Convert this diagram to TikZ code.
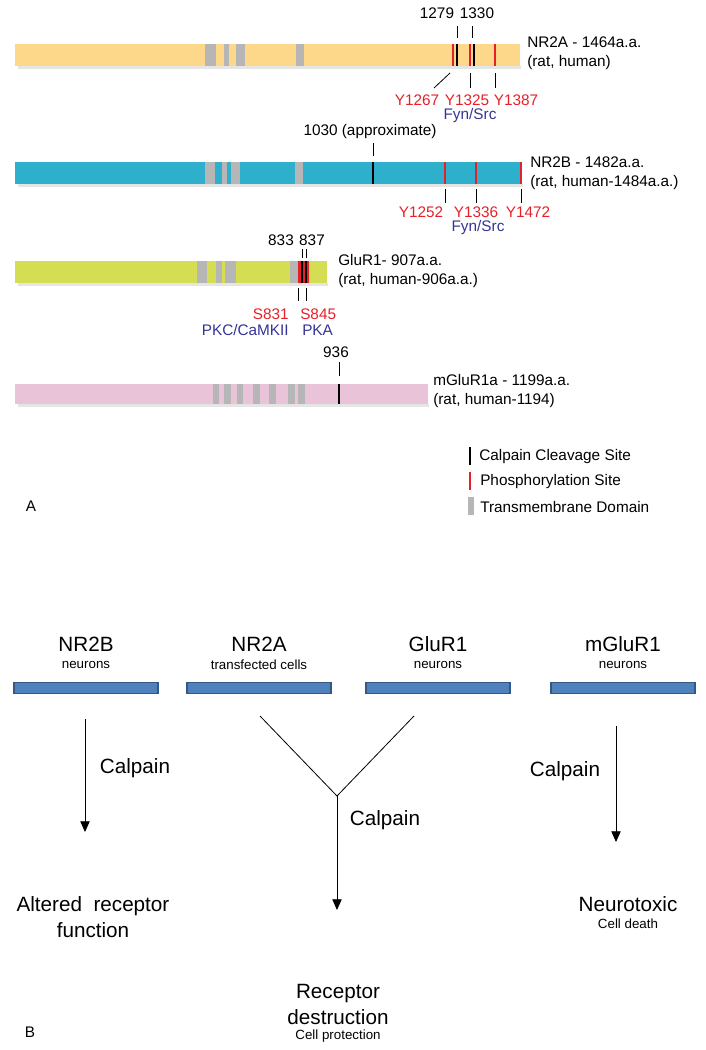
\documentclass[tikz,border=0pt]{standalone}
\usepackage{fontspec}
\setmainfont{Liberation Sans}
\usetikzlibrary{positioning,arrows.meta}
\definecolor{nrtwoa}{RGB}{253,216,138}
\definecolor{nrtwob}{RGB}{46,176,204}
\definecolor{gluone}{RGB}{213,221,82}
\definecolor{mgluone}{RGB}{233,195,215}
\definecolor{tmgrey}{RGB}{182,182,182}
\definecolor{phred}{RGB}{230,32,40}
\definecolor{kinblue}{RGB}{52,52,148}
\definecolor{boxblue}{RGB}{79,129,189}
\definecolor{boxedge}{RGB}{52,88,132}
\tikzset{
  txt/.style={font=\fontsize{11.5}{14.5}\selectfont,inner sep=0pt},
  sitetxt/.style={txt,text=phred},
  kintxt/.style={txt,text=kinblue},
  protname/.style={txt,anchor=west,align=left},
  sitetick/.style={line width=0.6pt},
  cleave/.style={line width=1.5pt},
  phos/.style={phred,line width=1.5pt},
  bigtxt/.style={font=\fontsize{15.5}{19.5}\selectfont,inner sep=0pt,align=center},
  smalltxt/.style={font=\fontsize{10}{12}\selectfont,inner sep=0pt},
  recbar/.style={draw=boxedge,fill=boxblue,line width=1.2pt,minimum width=108pt,minimum height=8.5pt,inner sep=0pt},
  flow/.style={-{Triangle[width=7pt,length=8pt]},line width=0.6pt}
}
\begin{document}
\begin{tikzpicture}[x=0.75pt,y=-0.75pt]
\useasboundingbox (0,0) rectangle (706,1050);
% A: NR2A
\fill[black!10] (18,66) rectangle (521,69);
\fill[nrtwoa] (15,44) rectangle (520,66);
\foreach \a/\b in {205/216,224/229,236/245,296/304}
  \fill[tmgrey] (\a,44) rectangle (\b,66);
\foreach \x in {452.7,470,494.5}
  \draw[phos] (\x,44) -- (\x,66);
\foreach \x in {457.3,473.5}
  \draw[cleave] (\x,44) -- (\x,66);
\draw[sitetick] (457,26) -- (457,38);
\draw[sitetick] (472,26) -- (472,38);
\node[txt] (a1279) at (437,13) {1279};
\node[txt] (a1330) at (477,13) {1330};
\draw[sitetick] (450,73) -- (434,88);
\draw[sitetick] (470,73) -- (470,88);
\draw[sitetick] (495,73) -- (495,88);
\node[sitetxt] (ay1267) at (417,100) {Y1267};
\node[sitetxt] (ay1325) at (467,100) {Y1325};
\node[sitetxt] (ay1387) at (516,100) {Y1387};
\node[kintxt] (afyn) at (470,116) {Fyn/Src};
\node[protname] (nrtwoalbl) at (527,53) {NR2A - 1464a.a.\\(rat, human)};
% A: NR2B
\fill[black!10] (18,184) rectangle (523,187);
\fill[nrtwob] (15,162) rectangle (522,184);
\foreach \a/\b in {205/215,222/227,231/240,295/303}
  \fill[tmgrey] (\a,162) rectangle (\b,184);
\draw[cleave] (373,162) -- (373,184);
\foreach \x in {445,476,521}
{
  \draw[phos] (\x,162) -- (\x,184);
  \draw[sitetick] (\x,189) -- (\x,203);
}
\draw[sitetick] (373,143) -- (373,156);
\node[txt] (b1030) at (370,132) {1030 (approximate)};
\node[sitetxt] (by1252) at (421,212) {Y1252};
\node[sitetxt] (by1336) at (476,212) {Y1336};
\node[sitetxt] (by1472) at (528,212) {Y1472};
\node[kintxt] (bfyn) at (478,228) {Fyn/Src};
\node[protname] (nrtwoblbl) at (530,173) {NR2B - 1482a.a.\\(rat, human-1484a.a.)};
% A: GluR1
\fill[black!10] (18,283) rectangle (328,286);
\fill[gluone] (15,261) rectangle (327,283);
\foreach \a/\b in {197/207,216/222,225/236,290/298}
  \fill[tmgrey] (\a,261) rectangle (\b,283);
\fill[phred] (298,261) rectangle (309,283);
\foreach \x in {302,306}
  \draw[line width=1.2pt] (\x,261) -- (\x,283);
\foreach \x in {302.5,306}
  \draw[sitetick] (\x,249) -- (\x,258);
\foreach \x in {298.5,306.5}
  \draw[sitetick] (\x,288) -- (\x,301);
\node[txt] (g833) at (281,240) {833};
\node[txt] (g837) at (312,240) {837};
\node[sitetxt,anchor=east] (gs831) at (289,314) {S831};
\node[sitetxt,anchor=west] (gs845) at (300,314) {S845};
\node[kintxt,anchor=east] (gpkc) at (289,330) {PKC/CaMKII};
\node[kintxt,anchor=west] (gpka) at (302,330) {PKA};
\node[protname] (glulbl) at (338,271) {GluR1- 907a.a.\\(rat, human-906a.a.)};
% A: mGluR1a
\fill[black!10] (18,404) rectangle (429,407);
\fill[mgluone] (15,384) rectangle (428,404);
\foreach \a/\b in {212.5/219,224/231,236.5/243,253/260,269/276,288/295,298/305}
  \fill[tmgrey] (\a,384) rectangle (\b,404);
\draw[cleave] (339,384) -- (339,404);
\draw[sitetick] (339,362) -- (339,376);
\node[txt] (m936) at (336,352) {936};
\node[protname] (mglulbl) at (433,391) {mGluR1a - 1199a.a.\\(rat, human-1194)};
% legend
\draw[cleave] (470,447) -- (470,465);
\node[txt,anchor=west] (legcut) at (479,457) {Calpain Cleavage Site};
\draw[phred,line width=1.2pt] (470,472) -- (470,490);
\node[txt,anchor=west] (legphos) at (480,482) {Phosphorylation Site};
\fill[tmgrey] (468,497) rectangle (474,515);
\node[txt,anchor=west] (legtm) at (480,507) {Transmembrane Domain};
\node[txt] (labA) at (31,506) {A};
% B
\foreach \x/\nm/\ttl/\stl in {86/b1/NR2B/neurons,259/b2/NR2A/transfected cells,438/b3/GluR1/neurons,623/b4/mGluR1/neurons}
{
  \node[bigtxt] (t\nm) at (\x,644) {\ttl};
  \node[smalltxt] (s\nm) at (\x,665) {\stl};
  \node[recbar] (\nm) at (\x,688) {};
}
\coordinate (lstart) at (85,719);
\coordinate (lend) at (85,832);
\draw[flow] (lstart) -- (lend);
\node[bigtxt] (calpl) at (135,768) {Calpain};
\coordinate (yleft) at (260,716);
\coordinate (yright) at (414,716);
\coordinate (yjoin) at (337,796);
\coordinate (mend) at (337,910);
\draw[line width=0.6pt] (yleft) -- (yjoin) -- (yright);
\draw[flow] (yjoin) -- (mend);
\node[bigtxt] (calpm) at (385,820) {Calpain};
\coordinate (rstart) at (616,726);
\coordinate (rend) at (616,842);
\draw[flow] (rstart) -- (rend);
\node[bigtxt] (calpr) at (565,771) {Calpain};
\node[bigtxt] (altered) at (93,917) {Altered~~receptor\\function};
\node[bigtxt] (destr) at (338,1004) {Receptor\\destruction};
\node[smalltxt] (protect) at (338,1036) {Cell protection};
\node[bigtxt] (ntox) at (628,904) {Neurotoxic};
\node[smalltxt] (cdeath) at (628,924) {Cell death};
\node[txt] (labB) at (30,1032) {B};
\end{tikzpicture}
\end{document}
